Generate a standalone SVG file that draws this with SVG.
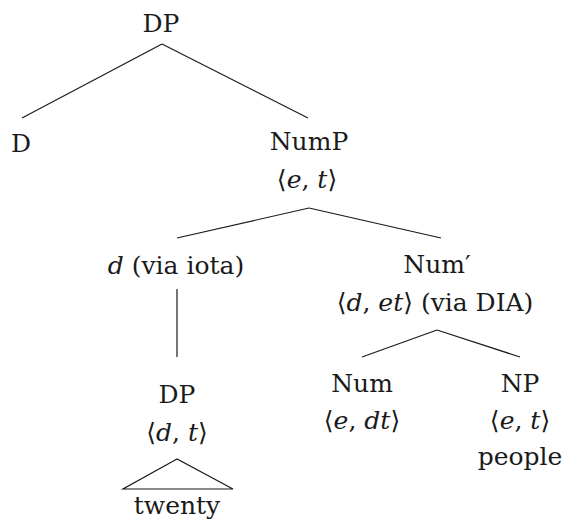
<svg xmlns="http://www.w3.org/2000/svg" width="564" height="524" viewBox="0 0 564 524">
<style>
.t{font-size:25px;fill:#1a1a1a;text-anchor:middle}
.i{font-style:italic}
.e line,.e polygon{stroke:#1a1a1a;stroke-width:1.2;fill:none}
</style>
<rect width="564" height="524" fill="#fff"/>
<g class="e" id="connectors">
<line x1="162" y1="44" x2="22" y2="118"/>
<line x1="162" y1="44" x2="308" y2="118"/>
<line x1="309" y1="208" x2="177" y2="238"/>
<line x1="309" y1="208" x2="441" y2="238"/>
<line x1="177" y1="289" x2="177" y2="357"/>
<line x1="437" y1="330" x2="362" y2="357"/>
<line x1="437" y1="330" x2="520" y2="357"/>
<polygon points="177,459 123,489 233,489"/>
</g>
<g class="t" font-family="DejaVu Serif, serif">
<g id="dp-top"><text x="161" y="32">DP</text></g>
<g id="d"><text x="21" y="152">D</text></g>
<g id="nump"><text x="309" y="150">NumP</text><text x="307" y="188">⟨<tspan class="i">e</tspan>, <tspan class="i">t</tspan>⟩</text></g>
<g id="d-iota"><text x="176" y="274"><tspan class="i">d</tspan> (via iota)</text></g>
<g id="numbar"><text x="437" y="273">Num′</text><text x="435" y="311">⟨<tspan class="i">d</tspan>, <tspan class="i">et</tspan>⟩ (via DIA)</text></g>
<g id="dp-low"><text x="177" y="403">DP</text><text x="177" y="441">⟨<tspan class="i">d</tspan>, <tspan class="i">t</tspan>⟩</text><text x="177" y="514">twenty</text></g>
<g id="num"><text x="362" y="392">Num</text><text x="362" y="429">⟨<tspan class="i">e</tspan>, <tspan class="i">dt</tspan>⟩</text></g>
<g id="np"><text x="520" y="392">NP</text><text x="520" y="429">⟨<tspan class="i">e</tspan>, <tspan class="i">t</tspan>⟩</text><text x="520" y="465">people</text></g>
</g>
</svg>
